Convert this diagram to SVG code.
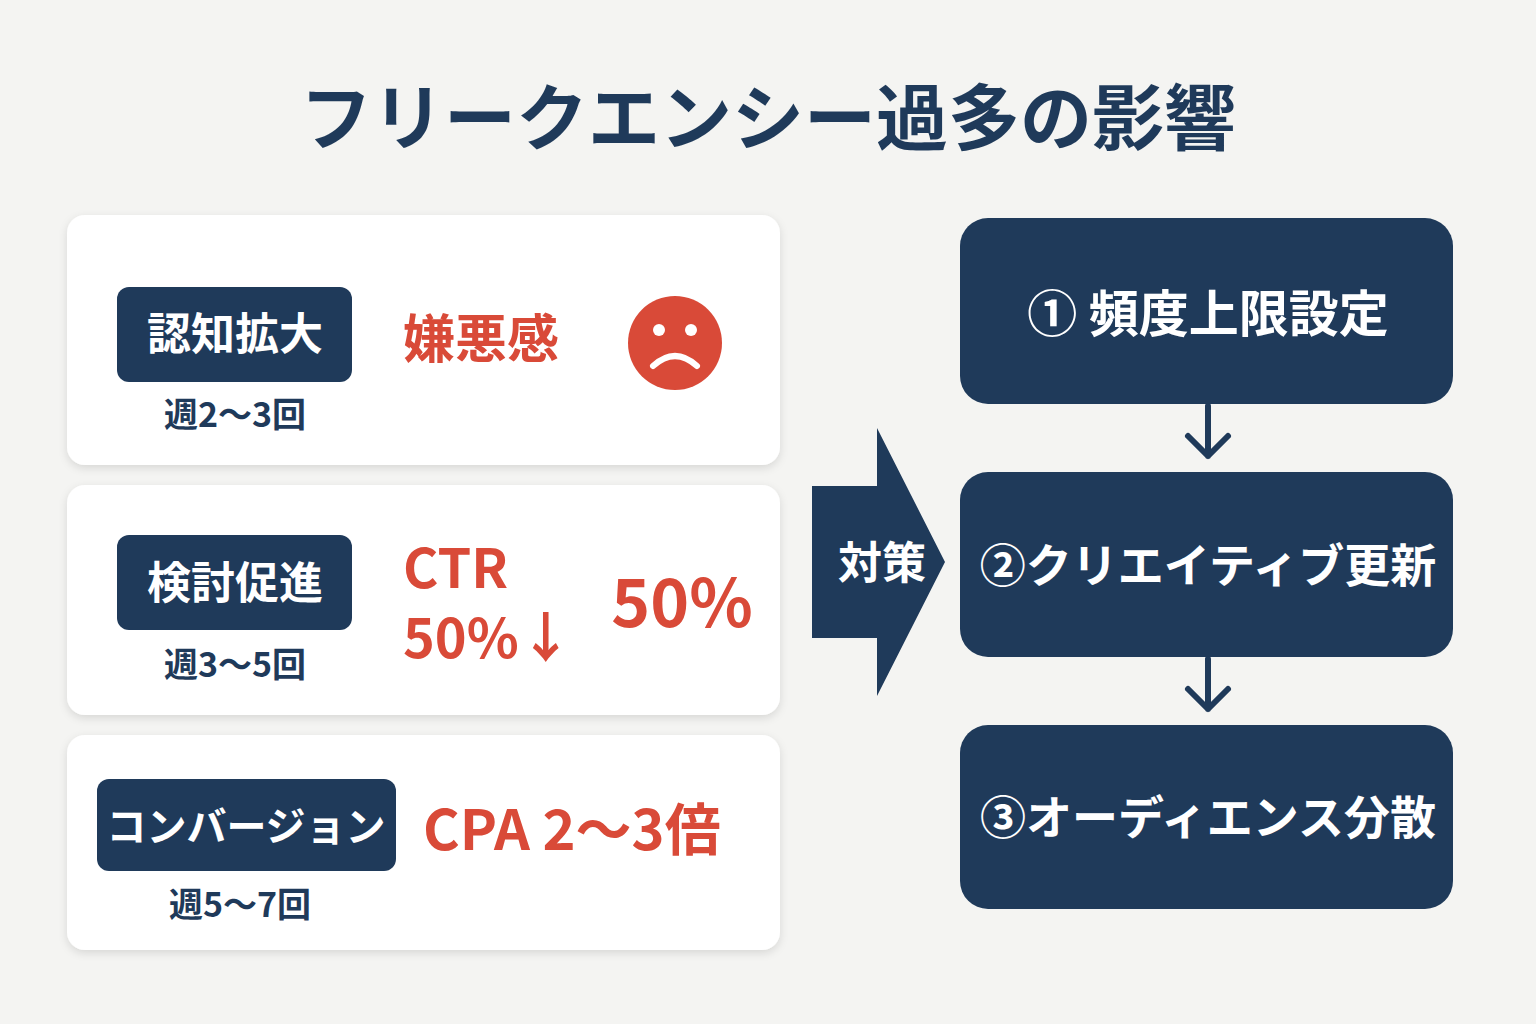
<svg xmlns="http://www.w3.org/2000/svg" width="1536" height="1024" viewBox="0 0 1536 1024">
<defs>
<filter id="sh" x="-5%" y="-5%" width="110%" height="115%"><feDropShadow dx="0" dy="3" stdDeviation="4" flood-color="#000" flood-opacity="0.12"/></filter>
<style>
text{font-family:"Noto Sans CJK JP","Noto Sans",sans-serif;font-weight:700}
.card{fill:#fff;filter:url(#sh)}
.lab{fill:#1f3a5a}
.wt{fill:#fff}
.dk{fill:#1f3a5a}
.rd{fill:#d94a38}
.con{stroke:#1f3a5a;stroke-width:6;fill:none;stroke-linecap:round;stroke-linejoin:round}
</style>
</defs>
<rect width="1536" height="1024" fill="#f4f4f2"/>
<text x="768" y="144" text-anchor="middle" font-size="72" class="dk">フリークエンシー過多の影響</text>
<g id="card1">
<rect class="card" x="67" y="215" width="713" height="250" rx="18"/>
<rect class="lab" x="117" y="287" width="235" height="95" rx="12"/>
<text x="235" y="350" text-anchor="middle" font-size="44" class="wt">認知拡大</text>
<text x="235" y="427" text-anchor="middle" font-size="34" class="dk">週2〜3回</text>
<text x="481" y="358" text-anchor="middle" font-size="52" class="rd">嫌悪感</text>
<circle cx="675" cy="343" r="47" fill="#d94a38"/>
<circle cx="659" cy="330" r="6" fill="#fff"/><circle cx="691" cy="330" r="6" fill="#fff"/>
<path d="M653 366 Q675 346 697 366" stroke="#fff" stroke-width="6" fill="none" stroke-linecap="round"/>
</g>
<g id="card2">
<rect class="card" x="67" y="485" width="713" height="230" rx="18"/>
<rect class="lab" x="117" y="535" width="235" height="95" rx="12"/>
<text x="235" y="599" text-anchor="middle" font-size="44" class="wt">検討促進</text>
<text x="235" y="677" text-anchor="middle" font-size="34" class="dk">週3〜5回</text>
<text x="403" y="588" font-size="54" class="rd">CTR</text>
<text x="403" y="658" font-size="54" class="rd">50%↓</text>
<text x="682" y="627" text-anchor="middle" font-size="66" class="rd">50%</text>
</g>
<g id="card3">
<rect class="card" x="67" y="735" width="713" height="215" rx="18"/>
<rect class="lab" x="97" y="779" width="299" height="92" rx="12"/>
<text x="246" y="841" text-anchor="middle" font-size="40" class="wt">コンバージョン</text>
<text x="240" y="917" text-anchor="middle" font-size="34" class="dk">週5〜7回</text>
<text x="423" y="850" font-size="56" class="rd">CPA 2〜3倍</text>
</g>
<g id="arrow">
<polygon points="812,486 877,486 877,428 945,562 877,696 877,638 812,638" fill="#1f3a5a"/>
<text x="882" y="579" text-anchor="middle" font-size="44" class="wt">対策</text>
</g>
<g id="step1"><rect class="lab" x="960" y="218" width="493" height="186" rx="28"/>
<text x="1208" y="332" text-anchor="middle" font-size="50" class="wt">① 頻度上限設定</text></g>
<g id="step2"><rect class="lab" x="960" y="472" width="493" height="185" rx="28"/>
<text x="1208" y="582" text-anchor="middle" font-size="46" class="wt">②クリエイティブ更新</text></g>
<g id="step3"><rect class="lab" x="960" y="725" width="493" height="184" rx="28"/>
<text x="1208" y="834" text-anchor="middle" font-size="46" class="wt">③オーディエンス分散</text></g>
<g id="connectors">
<path class="con" d="M1208 406 V456 M1188 436 L1208 456 L1228 436"/>
<path class="con" d="M1208 659 V709 M1188 689 L1208 709 L1228 689"/>
</g>
</svg>
